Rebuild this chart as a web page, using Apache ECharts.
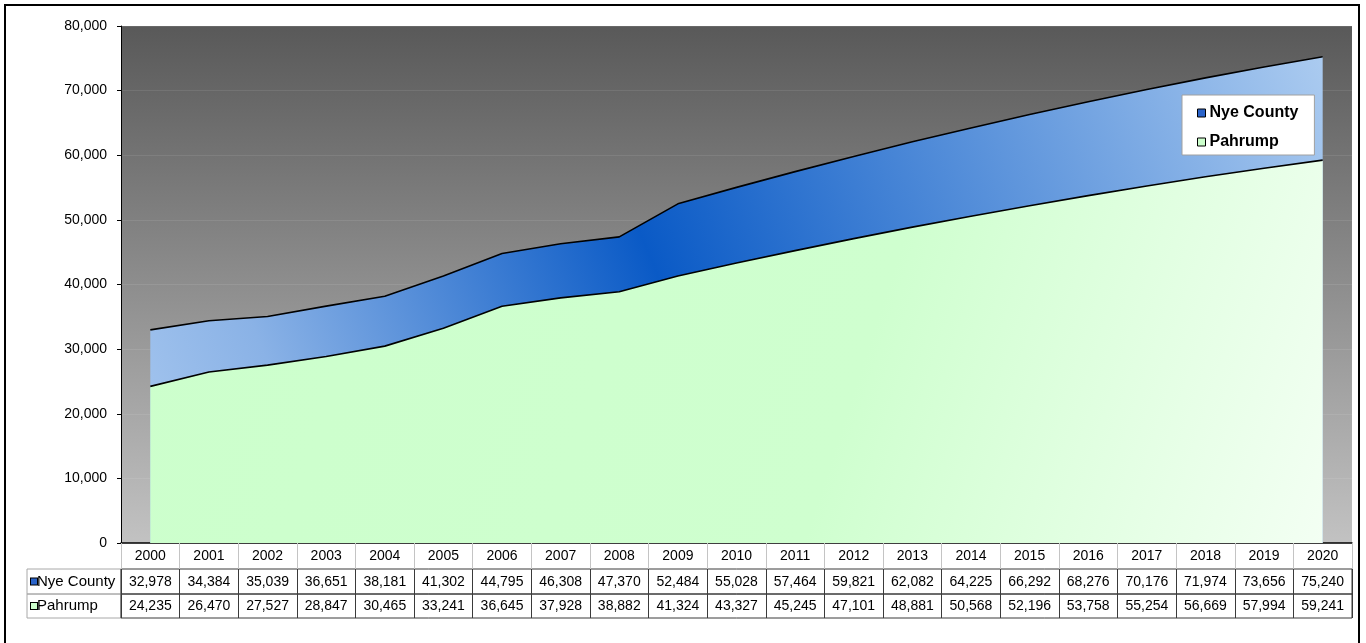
<!DOCTYPE html>
<html><head><meta charset="utf-8">
<script src="https://cdn.jsdelivr.net/npm/echarts@6/dist/echarts.min.js"></script>
<style>
html,body{margin:0;padding:0;background:#fff;}
#c{width:1366px;height:643px;}
#frame{position:absolute;left:4px;top:4px;width:1352px;height:700px;border:2px solid #000;pointer-events:none;}
</style>
</head><body><div id="c"></div><div id="frame"></div>
<script>
const years = ['2000','2001','2002','2003','2004','2005','2006','2007','2008','2009','2010','2011','2012','2013','2014','2015','2016','2017','2018','2019','2020'];
const nyeCounty = [32978,34384,35039,36651,38181,41302,44795,46308,47370,52484,55028,57464,59821,62082,64225,66292,68276,70176,71974,73656,75240];
const pahrump = [24235,26470,27527,28847,30465,33241,36645,37928,38882,41324,43327,45245,47101,48881,50568,52196,53758,55254,56669,57994,59241];
const seriesNames = ['Nye County','Pahrump'];
const yMin = 0, yMax = 80000, yStep = 10000;

const FONT = "'Liberation Sans', Arial, sans-serif";
const fmt = v => Number(v).toLocaleString('en-US');
const G = echarts.graphic.LinearGradient;

const chart = echarts.init(document.getElementById('c'), null, {renderer:'canvas'});

const rowTops = [569, 594], rowHeights = [25, 24];
const rowData = [nyeCounty, pahrump];
const boxColors = ['#2a63c9', '#ccffcc'];

const grids = [
  {left:121, right:14, top:26, height:517, show:true, borderWidth:0,
   backgroundColor: new G(0,0,0,1,[{offset:0,color:'#595959'},{offset:1,color:'#c2c2c2'}])}
];
const xAxes = [{
  type:'category', data:years, gridIndex:0, boundaryGap:true,
  axisLine:{show:true, lineStyle:{color:'#000', width:1.5}},
  axisTick:{show:true, interval:0, length:26, alignWithLabel:false, lineStyle:{color:'#c4c4c4'}},
  axisLabel:{interval:0, margin:6, fontSize:14, color:'#000', fontFamily:FONT},
  splitLine:{show:false}
}];
const yAxes = [{
  type:'value', gridIndex:0, min:yMin, max:yMax, interval:yStep,
  axisLine:{show:true, lineStyle:{color:'#000', width:1}},
  axisTick:{show:true, length:4, lineStyle:{color:'#000'}},
  axisLabel:{margin:14, fontSize:14, color:'#000', fontFamily:FONT, formatter:fmt},
  splitLine:{show:true, lineStyle:{color:'rgba(255,255,255,0.09)', width:1}}
}];

// label column grids
seriesNames.forEach((name, r) => {
  const gi = grids.length;
  grids.push({left:27, width:94, top:rowTops[r], height:rowHeights[r], show:true, borderColor:'#a8a8a8', borderWidth:1, backgroundColor:'transparent'});
  xAxes.push({type:'value', gridIndex:gi, show:false});
  yAxes.push({type:'category', gridIndex:gi, data:[name],
    axisLine:{show:false}, axisTick:{show:false}, splitLine:{show:false},
    axisLabel:{inside:true, margin:4, formatter: v => '{a|}{t|' + v + '}',
      rich:{a:{width:6, height:6, backgroundColor:boxColors[r], borderColor:'#000', borderWidth:1},
            t:{fontSize:15, color:'#000', fontFamily:FONT, padding:[0,0,0,0]}}}
  });
});
// data row grids
seriesNames.forEach((name, r) => {
  const gi = grids.length;
  grids.push({left:121, right:14, top:rowTops[r], height:rowHeights[r], show:true, borderColor:'#3a3a3a', borderWidth:1, backgroundColor:'transparent'});
  xAxes.push({type:'category', gridIndex:gi, data:years, boundaryGap:true, position:'bottom',
    axisLine:{show:false}, axisTick:{show:false, interval:0},
    splitLine:{show:true, interval:0, lineStyle:{color:'#3a3a3a', width:1}},
    axisLabel:{inside:true, interval:0, margin:5, fontSize:14, color:'#000', fontFamily:FONT,
      formatter:(v, i) => fmt(rowData[r][i])}
  });
  yAxes.push({type:'value', gridIndex:gi, show:false});
});

const option = {
  animation:false,
  textStyle:{fontFamily:FONT},
  grid:grids,
  xAxis:xAxes,
  yAxis:yAxes,
  legend:{
    orient:'vertical', left:1182, top:95,
    padding:[10,16,5,15], itemGap:13, itemWidth:8, itemHeight:8, icon:'rect',
    backgroundColor:'#fff', borderColor:'#a0a0a0', borderWidth:1,
    textStyle:{fontSize:16, fontWeight:'bold', color:'#000', fontFamily:FONT, padding:[0,0,0,-1]},
    data:[
      {name:seriesNames[0], itemStyle:{color:'#2a63c9', borderColor:'#000', borderWidth:1}},
      {name:seriesNames[1], itemStyle:{color:'#ccffcc', borderColor:'#000', borderWidth:1}}
    ]
  },
  series:[
    {type:'line', name:seriesNames[0], data:nyeCounty, xAxisIndex:0, yAxisIndex:0,
     symbol:'none', lineStyle:{color:'#000', width:1.6}, itemStyle:{color:'#2a63c9'},
     areaStyle:{opacity:1, color:new G(0,1,1,0,[
       {offset:0,color:'#a9c9f0'},{offset:0.14,color:'#8ab2e6'},{offset:0.45,color:'#0a5ac6'},{offset:1,color:'#abcbf0'}])}},
    {type:'line', name:seriesNames[1], data:pahrump, xAxisIndex:0, yAxisIndex:0,
     symbol:'none', lineStyle:{color:'#000', width:1.6}, itemStyle:{color:'#ccffcc'},
     areaStyle:{opacity:1, color:new G(0,0,1,1,[
       {offset:0,color:'#ccffcc'},{offset:0.6,color:'#cfffcf'},{offset:1,color:'#f3fff3'}])}}
  ]
};
chart.setOption(option);
</script>
</body></html>
